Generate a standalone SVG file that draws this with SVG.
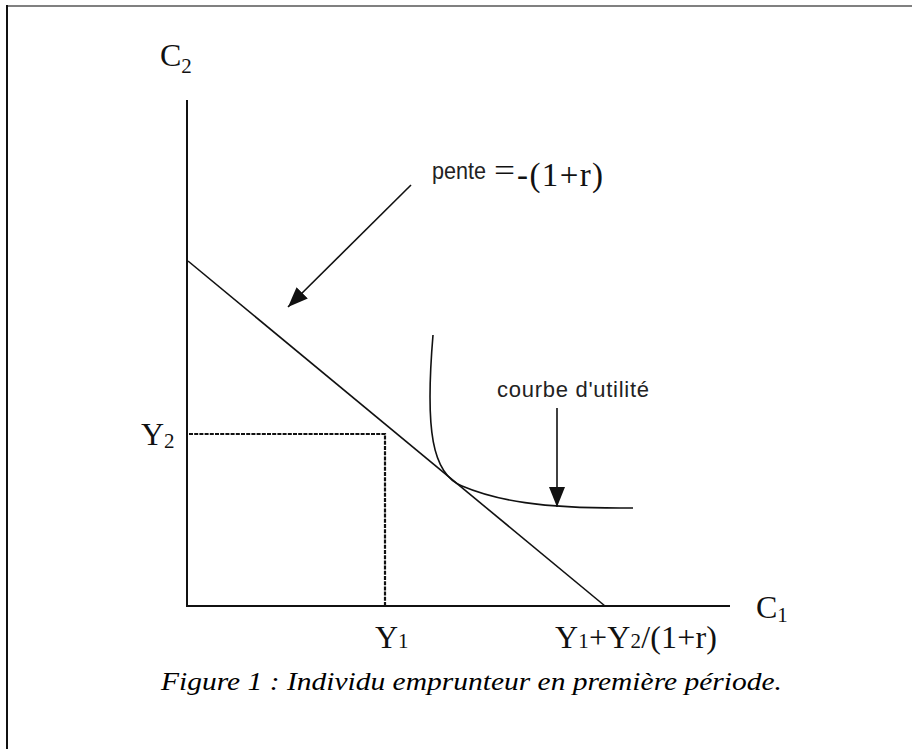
<svg xmlns="http://www.w3.org/2000/svg" width="912" height="749" viewBox="0 0 912 749">
<defs>
<style>
.ax{stroke:#111;stroke-width:2;fill:none}
.ln{stroke:#111;stroke-width:1.6;fill:none}
.dot{stroke:#111;stroke-width:2.2;stroke-dasharray:4 1.2;fill:none}
.m{font-family:"Liberation Serif",serif;font-size:32px;fill:#111}
.s{font-size:21px}
.a{font-family:"Liberation Sans",Arial,sans-serif;font-size:22px;fill:#222}
.cap{font-family:"Liberation Serif",serif;font-style:italic;font-size:25px;fill:#000}
</style>
<marker id="ah2" viewBox="0 0 20 16" refX="20" refY="8" markerWidth="20" markerHeight="16" markerUnits="userSpaceOnUse" orient="auto">
<path d="M0,0 L20,8 L0,16 z" fill="#111"/>
</marker>
</defs>
<rect x="0" y="0" width="912" height="749" fill="#fff"/>
<rect x="6" y="5" width="906" height="2" fill="#808080"/>
<rect x="6" y="5" width="2" height="744" fill="#111"/>

<g id="axes">
<line class="ax" x1="187" y1="100" x2="187" y2="607"/>
<line class="ax" x1="186" y1="606" x2="730" y2="606"/>
</g>

<g id="labels">
<text class="m" x="160" y="66">C<tspan class="s" dy="7">2</tspan></text>
<text class="m" x="756" y="618">C<tspan class="s" dy="4">1</tspan></text>
<text class="m" x="141" y="445">Y<tspan class="s" dy="3">2</tspan></text>
<text class="m" x="375" y="648">Y<tspan class="s">1</tspan></text>
<text class="m" x="555" y="648" textLength="162">Y<tspan class="s">1</tspan>+Y<tspan class="s">2</tspan>/(1+r)</text>
</g>

<g id="connectors">
<line class="ln" x1="188" y1="261" x2="605" y2="606"/>
<polyline class="dot" points="189,434 385,434 385,606"/>
<path class="ln" d="M433,335 C425,430 432,474 462,486 C495,500 540,509 633,508"/>
<line class="ln" x1="411" y1="185" x2="288" y2="307" marker-end="url(#ah2)"/>
<line class="ln" x1="557" y1="408" x2="557" y2="507" marker-end="url(#ah2)"/>
</g>

<g id="pente">
<text class="a" x="432" y="179" style="font-size:23px" textLength="54" lengthAdjust="spacingAndGlyphs">pente</text>
<text class="m" x="494" y="181" textLength="21" lengthAdjust="spacingAndGlyphs">=</text>
<text class="m" x="517" y="186" style="font-size:33px" textLength="86">-(1+r)</text>
</g>
<g id="courbe">
<text class="a" x="497" y="397" textLength="152">courbe d'utilité</text>
</g>
<g id="caption">
<text class="cap" x="161" y="690" textLength="621" lengthAdjust="spacingAndGlyphs">Figure 1 : Individu emprunteur en première période.</text>
</g>
</svg>
